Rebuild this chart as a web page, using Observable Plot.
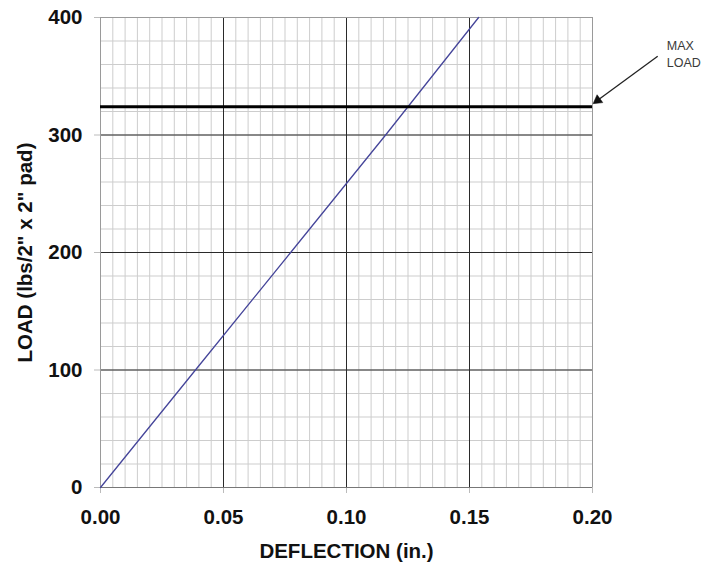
<!DOCTYPE html>
<html>
<head>
<meta charset="utf-8">
<script src="https://cdn.jsdelivr.net/npm/d3@7"></script>
<script src="https://cdn.jsdelivr.net/npm/@observablehq/plot@0.6"></script>
<style>
  body { margin: 0; background: #fff; }
  #chart svg { display: block; }
</style>
</head>
<body>
<div id="chart"></div>
<script>
// Data
const deflection = [0, 0.0386, 0.0773, 0.1159, 0.1537];
const load = [0, 100, 200, 300, 400];
const xTicks = [0, 0.05, 0.10, 0.15, 0.20];
const yTicks = [0, 100, 200, 300, 400];
const xMajorGrid = [0.05, 0.10, 0.15];
const yMajorGrid = [100, 200, 300];
const xMinorStep = 0.005;
const yMinorStep = 20;
const maxLoad = [324];
const arrowFrom = [0.2265, 367];
const arrowTo = [0.2003, 325];
const arrowHeadAt = [0.2021, 329.5];
const arrowHeadRotate = 234;
const noteAt = [0.2302, 370];
const noteText = "MAX\nLOAD";

const xMinor = d3.range(0, 0.2 + 1e-9, xMinorStep);
const yMinor = d3.range(0, 400 + 1e-9, yMinorStep);
const curve = deflection.map((d, i) => ({x: d, y: load[i]}));

const font = "'Liberation Sans', Arial, sans-serif";

const plot = Plot.plot({
  width: 703,
  height: 565,
  marginLeft: 100,
  marginRight: 111,
  marginTop: 17,
  marginBottom: 78,
  style: {fontFamily: font, background: "#fff"},
  x: {domain: [0, 0.2]},
  y: {domain: [0, 400]},
  marks: [
    Plot.gridX(xMinor, {stroke: "#cdcdcd", strokeOpacity: 1}),
    Plot.gridY(yMinor, {stroke: "#cdcdcd", strokeOpacity: 1}),
    Plot.gridX(xMajorGrid, {stroke: "#2a2a2a", strokeOpacity: 1}),
    Plot.gridY(yMajorGrid, {stroke: "#2a2a2a", strokeOpacity: 1}),
    Plot.frame({stroke: "#9a9a9a"}),
    Plot.axisX({
      ticks: xTicks, tickFormat: d3.format(".2f"), tickSize: 6, tickPadding: 16,
      stroke: "#bbb", fill: "#111", fontSize: 20.5, fontWeight: "bold",
      label: "DEFLECTION (in.)", labelAnchor: "center", labelArrow: "none", labelOffset: 70
    }),
    Plot.axisY({
      ticks: yTicks, tickFormat: d3.format("d"), tickSize: 6, tickPadding: 12,
      stroke: "#bbb", fill: "#111", fontSize: 20.5, fontWeight: "bold",
      label: "LOAD (lbs/2\" x 2\" pad)", labelAnchor: "center", labelArrow: "none", labelOffset: 83
    }),
    Plot.ruleY([0], {stroke: "#777"}),
    Plot.line(curve, {x: "x", y: "y", stroke: "#45459a", strokeWidth: 1.3}),
    Plot.ruleY(maxLoad, {stroke: "#000", strokeWidth: 3}),
    Plot.link([0], {
      x1: () => arrowFrom[0], y1: () => arrowFrom[1],
      x2: () => arrowHeadAt[0], y2: () => arrowHeadAt[1],
      stroke: "#222", strokeWidth: 1.3, clip: false
    }),
    Plot.dot([0], {
      x: () => arrowHeadAt[0], y: () => arrowHeadAt[1],
      symbol: "triangle", r: 3.6, rotate: arrowHeadRotate,
      fill: "#111", stroke: "#111", strokeWidth: 0.5, clip: false
    }),
    Plot.text([noteText], {
      x: () => noteAt[0], y: () => noteAt[1], text: d => d,
      textAnchor: "start", lineAnchor: "middle", fontSize: 12.5, fill: "#3a3a3a",
      lineHeight: 1.35, clip: false
    })
  ]
});
document.getElementById("chart").appendChild(plot);
</script>
</body>
</html>
